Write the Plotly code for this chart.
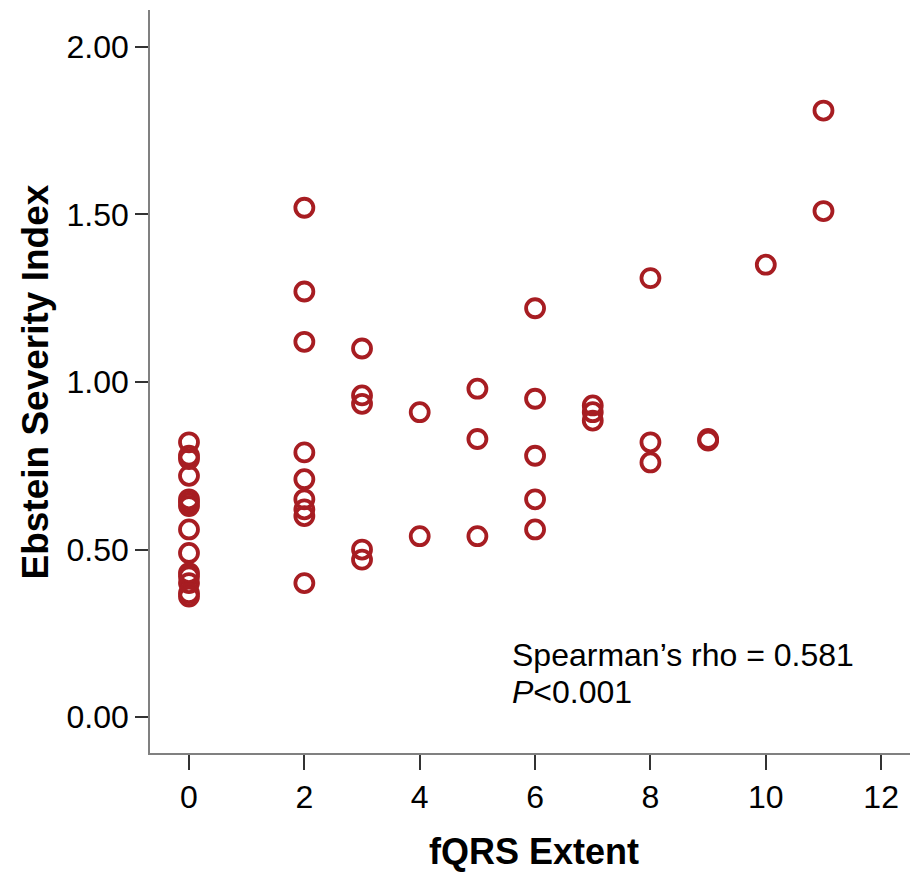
import plotly.graph_objects as go

# fQRS extent (x) and Ebstein Severity Index (y)
fqrs_0 = [0.82, 0.78, 0.77, 0.72, 0.65, 0.64, 0.63, 0.56, 0.49, 0.43, 0.42, 0.40, 0.37, 0.36]
fqrs_2 = [1.52, 1.27, 1.12, 0.79, 0.71, 0.65, 0.62, 0.60, 0.40]
fqrs_3 = [1.10, 0.96, 0.935, 0.50, 0.47]
fqrs_4 = [0.91, 0.54]
fqrs_5 = [0.98, 0.83, 0.54]
fqrs_6 = [1.22, 0.95, 0.78, 0.65, 0.56]
fqrs_7 = [0.93, 0.91, 0.885]
fqrs_8 = [1.31, 0.82, 0.76]
fqrs_9 = [0.83, 0.825]
fqrs_10 = [1.35]
fqrs_11 = [1.81, 1.51]

groups = {0: fqrs_0, 2: fqrs_2, 3: fqrs_3, 4: fqrs_4, 5: fqrs_5, 6: fqrs_6,
          7: fqrs_7, 8: fqrs_8, 9: fqrs_9, 10: fqrs_10, 11: fqrs_11}
x_vals, y_vals = [], []
for k, vals in groups.items():
    x_vals += [k] * len(vals)
    y_vals += vals

x_ticks = [0, 2, 4, 6, 8, 10, 12]
y_ticks = [0.0, 0.5, 1.0, 1.5, 2.0]

RED = "#a71d22"
FONT = "Liberation Sans, Arial, sans-serif"

fig = go.Figure()
fig.add_trace(go.Scatter(
    x=x_vals, y=y_vals, mode="markers",
    marker=dict(symbol="circle-open", size=18, color=RED, line=dict(width=3.8, color=RED)),
    showlegend=False, hoverinfo="x+y"))

fig.add_annotation(x=5.566, y=0.185, xref="x", yref="y", xanchor="left", yanchor="middle",
                   text="Spearman\u2019s rho = 0.581", showarrow=False,
                   font=dict(family=FONT, size=32, color="black"))
fig.add_annotation(x=5.566, y=0.075, xref="x", yref="y", xanchor="left", yanchor="middle",
                   text="<i>P</i><0.001", showarrow=False,
                   font=dict(family=FONT, size=32, color="black"))

# axis titles
fig.add_annotation(x=0.505, y=-0.132, xref="paper", yref="paper", xanchor="center", yanchor="middle",
                   text="<b>fQRS Extent</b>", showarrow=False,
                   font=dict(family=FONT, size=36, color="black"))
fig.add_annotation(x=-0.151, y=0.499, xref="paper", yref="paper", xanchor="center", yanchor="middle",
                   text="<b>Ebstein Severity Index</b>", showarrow=False, textangle=-90,
                   font=dict(family=FONT, size=37, color="black"))

fig.update_layout(
    width=910, height=875,
    margin=dict(l=150, r=0, t=10, b=122),
    plot_bgcolor="white", paper_bgcolor="white",
    font=dict(family=FONT, color="black"),
    xaxis=dict(range=[-0.676, 12.5], tickvals=x_ticks, ticktext=[str(t) for t in x_ticks],
               showgrid=False, zeroline=False, showline=True, linecolor="#808080", linewidth=1.5,
               ticks="outside", ticklen=15, tickwidth=1.5, tickcolor="#333",
               tickfont=dict(family=FONT, size=32, color="black")),
    yaxis=dict(range=[-0.107, 2.11], tickvals=y_ticks, ticktext=[f"{t:.2f}" for t in y_ticks],
               showgrid=False, zeroline=False, showline=True, linecolor="#808080", linewidth=1.5,
               ticks="outside", ticklen=13, tickwidth=1.5, tickcolor="#333",
               tickfont=dict(family=FONT, size=32, color="black")),
)

fig.write_html("out.html")
